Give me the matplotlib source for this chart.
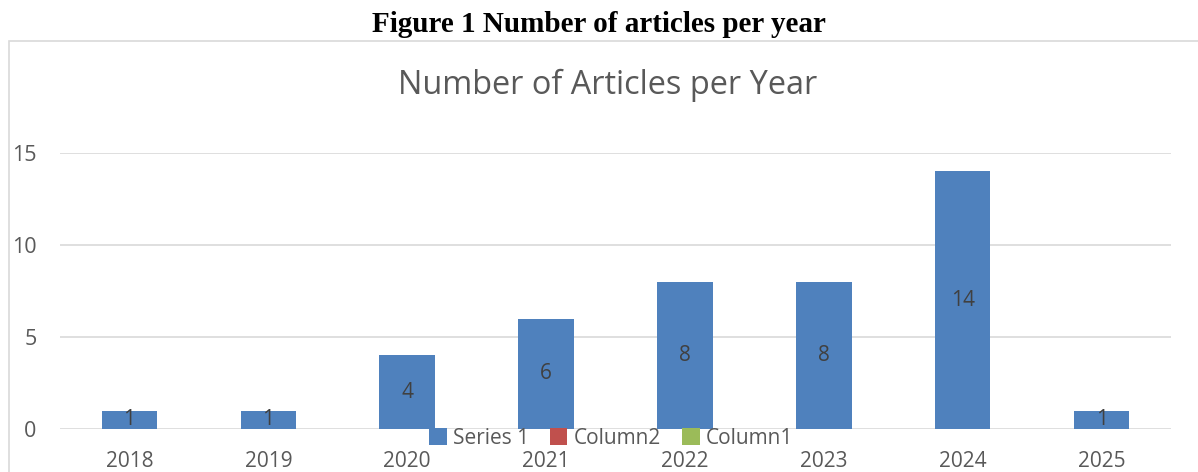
import matplotlib.pyplot as plt
from matplotlib.patches import Rectangle, Patch

years = ["2018", "2019", "2020", "2021", "2022", "2023", "2024", "2025"]
articles = [1, 1, 4, 6, 8, 8, 14, 1]
legend_labels = ["Series 1", "Column2", "Column1"]
legend_colors = ["#4F81BD", "#C0504D", "#9BBB59"]

W, H = 1198, 472
fig = plt.figure(figsize=(W / 100, H / 100), dpi=100)

# chart frame (Excel-style border, runs off the right/bottom edge)
fig.patches.append(Rectangle((8.5 / W, -0.1), 1.2, 1 - 40.5 / H + 0.1,
                             transform=fig.transFigure, fill=False,
                             edgecolor="#D9D9D9", linewidth=1.2))

# plot area: x 60..1171, y 153..429 (pixels from top)
ax = fig.add_axes([60 / W, 1 - 429 / H, 1111 / W, 276 / H])
x = list(range(len(years)))
ax.bar(x, articles, width=0.4, color="#4F81BD", zorder=3)
for xi, v in zip(x, articles):
    ax.text(xi, v / 2, str(v), ha="center", va="center", fontsize=15,
            color="#404040", family="Open Sans", zorder=4)

ax.set_xlim(-0.5, len(years) - 0.5)
ax.set_ylim(0, 15)
ax.set_yticks([0, 5, 10, 15])
ax.grid(axis="y", color="#D9D9D9", linewidth=1.2, zorder=0)
for s in ax.spines.values():
    s.set_visible(False)
ax.tick_params(length=0)
ax.set_xticks(x)
ax.set_xticklabels(years, fontsize=15, color="#595959", family="Open Sans")
ax.tick_params(axis="x", pad=16)
ax.tick_params(axis="y", pad=17)
for lab in ax.get_yticklabels():
    lab.set_fontsize(15.5)
    lab.set_color("#595959")
    lab.set_family("Open Sans")

fig.text(608 / W, 1 - 85 / H, "Number of Articles per Year", ha="center",
         va="center", fontsize=23.4, color="#595959", family="Open Sans")
fig.text(599 / W, 1 - 25 / H, "Figure 1 Number of articles per year",
         ha="center", va="center", fontsize=21, fontweight="bold",
         family="Liberation Serif", color="black")

handles = [Patch(facecolor=c, label=l) for c, l in zip(legend_colors, legend_labels)]
fig.legend(handles=handles, loc="center", bbox_to_anchor=(611 / W, 1 - 438 / H),
           ncol=3, frameon=False, handlelength=0.85, handleheight=0.85,
           handletextpad=0.3, columnspacing=1.0, borderpad=0,
           prop={"family": "Open Sans", "size": 15}, labelcolor="#595959")

fig.savefig("out.png", dpi=100)
